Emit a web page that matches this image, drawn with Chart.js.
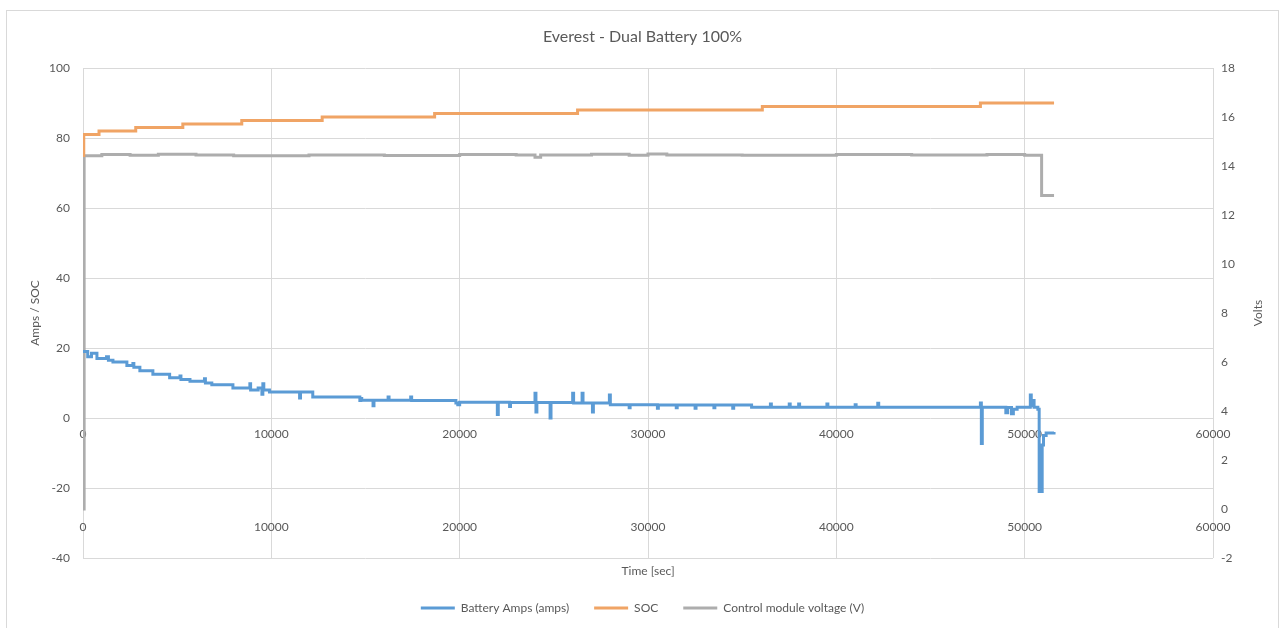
<!DOCTYPE html>
<html>
<head>
<meta charset="utf-8">
<title>Everest - Dual Battery 100%</title>
<script src="https://cdn.jsdelivr.net/npm/chart.js@4"></script>
<style>
	body { margin: 0; background: #fff; }
	#frame { position: absolute; left: 6px; top: 10px; width: 1271px; height: 640px; border: 1px solid #d9d9d9; }
	#chartCanvas { position: absolute; left: 0; top: 0; }
</style>
</head>
<body>
<div id="frame"></div>
<canvas id="chartCanvas" width="1285" height="628"></canvas>
<script>
"use strict";

// [time sec, value]
var ampsSeries = [
	[0, 19], [250, 17.5], [450, 18.5], [740, 17], [1250, 17.5], [1350, 16.5], [1590, 16],
	[2330, 15], [2650, 15.6], [2700, 14.5], [3020, 13.5], [3710, 12.5], [4600, 11.5],
	[5150, 12], [5200, 11], [5680, 10.5], [6450, 11.2], [6500, 10], [6840, 9.5], [7960, 8.6],
	[8860, 9.8], [8900, 8], [9300, 8.6], [9500, 6.8], [9550, 9.8], [9600, 8], [9900, 7.4],
	[11500, 5.7], [11550, 7.4], [12200, 6], [14700, 5], [14750, 5.6], [14800, 5.1],
	[15400, 3.5], [15450, 5.1], [16200, 6], [16250, 5.1], [17400, 6], [17450, 5],
	[19800, 4.3], [19900, 3.8], [20000, 4.5], [22000, 1], [22050, 4.5], [22650, 3.3],
	[22700, 4.4], [24000, 7.1], [24050, 1.7], [24100, 4.4], [24800, 0], [24850, 4.4],
	[26000, 7.1], [26050, 4.3], [26500, 7.1], [26550, 4.3], [27050, 1.7], [27100, 4.3],
	[27950, 6.6], [28000, 3.8], [29000, 2.9], [29050, 3.8], [30500, 2.8], [30550, 3.7],
	[31500, 2.9], [31550, 3.7], [32500, 2.8], [32550, 3.7], [33500, 2.9], [33550, 3.7],
	[34500, 2.8], [34550, 3.7], [35500, 3.1], [36500, 4], [36550, 3.1], [37500, 4],
	[37550, 3.1], [38000, 4], [38050, 3.1], [39500, 4], [39550, 3.1], [41000, 3.8],
	[41050, 3.1], [42200, 4.2], [42250, 3.1], [47650, 4.3], [47700, -7.3], [47750, 3.1],
	[49000, 1.5], [49100, 3], [49300, 1.2], [49400, 2.5], [49600, 3.1], [50300, 6.6],
	[50350, 3.5], [50450, 5], [50500, 3.1], [50700, 2.5], [50770, -21], [50930, -7.7],
	[51000, -5], [51140, -4.3], [51560, -4]
];

var socSeries = [
	[0, 75], [40, 81], [850, 82], [2800, 83], [5300, 84], [8430, 85], [12700, 86],
	[18670, 87], [26260, 88], [36070, 89], [47650, 90], [51560, 90]
];

var voltSeries = [
	[0, 0], [60, 14.42], [1000, 14.47], [2500, 14.44], [4000, 14.48], [6000, 14.45],
	[8000, 14.42], [12000, 14.45], [16000, 14.43], [20000, 14.47], [23000, 14.45],
	[24000, 14.36], [24300, 14.45], [27000, 14.48], [29000, 14.44], [30000, 14.49],
	[31000, 14.45], [35000, 14.44], [40000, 14.47], [44000, 14.45], [48000, 14.47],
	[50000, 14.44], [50900, 12.8], [51560, 12.8]
];

var seriesNames = ["Battery Amps (amps)", "SOC", "Control module voltage (V)"];
var seriesColors = ["#5B9BD5", "#F0A465", "#ADADAD"];

var ampsTicks = { min: -40, max: 100, step: 20 };
var voltTicks = { min: -2, max: 18, step: 2 };
var timeTicks = { min: 0, max: 60000, step: 10000 };

var textColor = "#595959";
var gridColor = "#d9d9d9";
var fontName = "Lato";

// Excel puts the right axis title bottom-to-top, chart.js does not
var voltsTitle = {
	id: 'voltsTitle',
	afterDraw: function (chart) {
		var ctx = chart.ctx;
		var area = chart.chartArea;
		ctx.save();
		ctx.translate(chart.scales.y1.right - 27, (area.top + area.bottom) / 2);
		ctx.rotate(-Math.PI / 2);
		ctx.font = "12px " + fontName;
		ctx.fillStyle = textColor;
		ctx.textAlign = "center";
		ctx.textBaseline = "middle";
		ctx.fillText("Volts", 0, 0);
		ctx.restore();
	}
};

function lineSet(name, color, data, yAxis, xAxis) {
	return {
		label: name,
		data: data,
		xAxisID: xAxis,
		yAxisID: yAxis,
		borderColor: color,
		backgroundColor: color,
		borderWidth: 3,
		stepped: true,
		pointRadius: 0,
		pointStyle: 'line',
		fill: false
	};
}

function timeAxis(where, pad) {
	return {
		type: 'linear',
		position: where,
		min: timeTicks.min,
		max: timeTicks.max,
		grid: { display: where.y !== undefined, color: gridColor, drawTicks: false },
		border: { display: false },
		ticks: {
			stepSize: timeTicks.step,
			padding: pad,
			color: textColor,
			font: { family: fontName, size: 12 },
			maxRotation: 0,
			callback: function (v) { return String(v); }
		}
	};
}

var ctx = document.getElementById('chartCanvas');
var myChart = new Chart(ctx, {
	type: 'line',
	data: {
		datasets: [
			lineSet(seriesNames[0], seriesColors[0], ampsSeries, 'y', 'x'),
			lineSet(seriesNames[1], seriesColors[1], socSeries, 'y', 'x'),
			lineSet(seriesNames[2], seriesColors[2], voltSeries, 'y1', 'x2')
		]
	},
	plugins: [voltsTitle],
	options: {
		responsive: false,
		animation: false,
		devicePixelRatio: 1,
		layout: { padding: { left: 0, right: 0, top: 0, bottom: 4 } },
		scales: {
			x: timeAxis({ y: 0 }, 8.8),
			x2: timeAxis({ y1: 0 }, 10.8),
			xt: {
				type: 'linear',
				axis: 'x',
				position: 'bottom',
				ticks: { display: false },
				grid: { display: false, drawTicks: false },
				border: { display: false },
				title: {
					display: true,
					text: "Time [sec]",
					color: textColor,
					font: { family: fontName, size: 12, lineHeight: 1 },
					padding: { top: 7, bottom: 0 }
				}
			},
			y: {
				type: 'linear',
				position: 'left',
				min: ampsTicks.min,
				max: ampsTicks.max,
				grid: { color: gridColor, drawTicks: false },
				border: { display: false },
				ticks: {
					stepSize: ampsTicks.step,
					padding: 13,
					color: textColor,
					font: { family: fontName, size: 12 }
				},
				title: {
					display: true,
					text: "Amps / SOC",
					color: textColor,
					font: { family: fontName, size: 12 },
					padding: { top: 27.8, bottom: 0 }
				},
				afterFit: function (s) { s.width = 83; }
			},
			y1: {
				type: 'linear',
				position: 'right',
				min: voltTicks.min,
				max: voltTicks.max,
				grid: { drawOnChartArea: false, drawTicks: false },
				border: { display: false },
				ticks: {
					stepSize: voltTicks.step,
					padding: 8,
					color: textColor,
					font: { family: fontName, size: 12 }
				},
				afterFit: function (s) { s.width = 72; }
			}
		},
		plugins: {
			title: {
				display: true,
				text: "Everest - Dual Battery 100%",
				color: textColor,
				font: { family: fontName, size: 16, weight: 'normal' },
				padding: { top: 27, bottom: 21.8 }
			},
			legend: {
				display: true,
				position: 'bottom',
				labels: {
					usePointStyle: true,
					pointStyleWidth: 34,
					padding: 25,
					color: textColor,
					font: { family: fontName, size: 12 }
				}
			},
			tooltip: { enabled: false }
		}
	}
});
</script>
</body>
</html>
